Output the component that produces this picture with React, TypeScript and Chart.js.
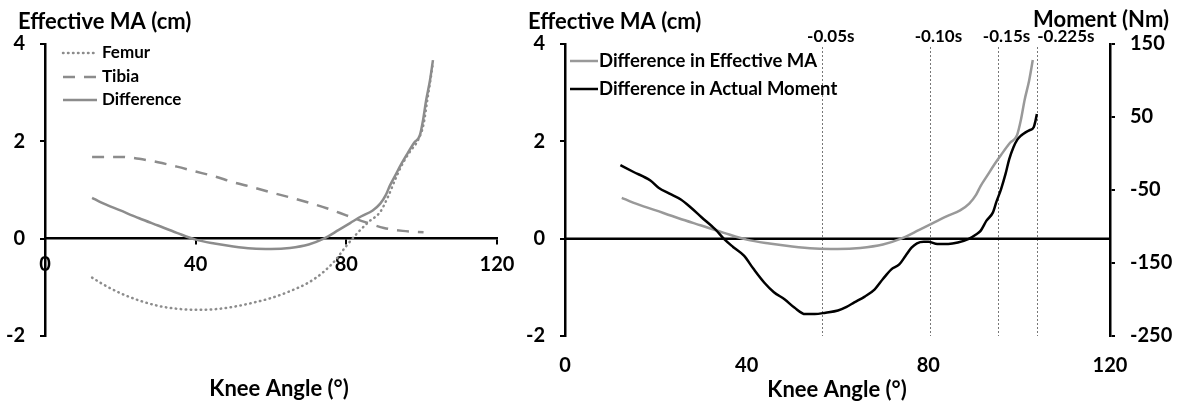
import React, { useEffect, useRef } from 'react';
import { Chart, registerables } from 'chart.js';

Chart.register(...registerables);

// ---------- data ----------
const femurAngle = [12.5, 15, 20, 25, 30, 35, 40, 45, 50, 55, 60, 65, 70, 74, 77, 80, 83, 86, 89, 91, 93, 95, 97, 99, 100.5, 101.5, 102.5, 103];
const femurMA = [-0.80, -0.92, -1.12, -1.27, -1.38, -1.44, -1.46, -1.45, -1.40, -1.32, -1.22, -1.08, -0.90, -0.68, -0.45, -0.15, 0.12, 0.35, 0.55, 0.85, 1.22, 1.55, 1.80, 2.02, 2.35, 2.85, 3.35, 3.62];

const tibiaAngle = [12.5, 20, 25, 30, 35, 40, 45, 50, 55, 60, 65, 70, 75, 80, 85, 90, 95, 100.5];
const tibiaMA = [1.68, 1.68, 1.64, 1.57, 1.48, 1.38, 1.28, 1.16, 1.06, 0.95, 0.85, 0.74, 0.62, 0.48, 0.34, 0.22, 0.16, 0.13];

const diffAngle = [12.5, 15, 20, 25, 30, 35, 40, 45, 50, 55, 60, 65, 70, 74, 78, 81, 84, 87, 89, 90.5, 91.5, 93, 94.5, 96, 98, 99.5, 100.4, 101.2, 102.2, 103];
const diffMA = [0.84, 0.74, 0.58, 0.42, 0.27, 0.12, -0.02, -0.10, -0.16, -0.20, -0.21, -0.19, -0.12, 0.0, 0.18, 0.32, 0.46, 0.58, 0.72, 0.90, 1.08, 1.30, 1.52, 1.72, 1.97, 2.12, 2.45, 2.85, 3.25, 3.67];

const momentAngle = [12.2, 15, 18.8, 20.6, 23, 25.5, 27.7, 30, 33.1, 35, 37, 39.4, 41.5, 43.9, 46, 48.4, 50.5, 52.9, 55, 57.4, 60.1, 62, 63.7, 66, 68.2, 70, 71.8, 73.6, 75, 76.3, 77.5, 79, 80, 82, 84.4, 86.5, 88.9, 90.5, 91.5, 92.8, 94.2, 95, 96, 97, 97.8, 98.7, 99.6, 100.5, 101.4, 102.3, 103.2, 103.6, 103.9];
const momentNm = [-16, -25, -37, -47, -55, -63, -74, -87, -104, -117, -128, -140, -158, -177, -190, -200, -211, -220, -220, -218, -215, -210, -204, -196, -186, -172, -159, -152, -140, -129, -123, -121, -121, -124, -124, -122, -117, -111, -106, -92, -81, -66, -49, -28, -8, 8, 19, 25, 29, 32, 36, 45, 54];

const eventAngles = [56.6, 80.3, 95.3, 103.9];
const eventLabels = ['-0.05s', '-0.10s', '-0.15s', '-0.225s'];

const leftLabels = ['Femur', 'Tibia', 'Difference'];
const rightLabels = ['Difference in Effective MA', 'Difference in Actual Moment'];

const xTitle = 'Knee Angle (°)';
const yTitle = 'Effective MA (cm)';
const y2Title = 'Moment (Nm)';

const xMin = 0, xMax = 120, xStep = 40;
const yMin = -2, yMax = 4, yStep = 2;
const y2Min = -250, y2Max = 150, y2Step = 100;

// ---------- helpers ----------
const FONT = 'Lato';
const pts = (xs: number[], ys: number[]) => xs.map((x, i) => ({ x, y: ys[i] }));

const tickFont = { family: FONT, weight: 'bold' as const, size: 20 };

const axisGrid = { drawOnChartArea: false, drawTicks: true, tickLength: 5, color: '#000', lineWidth: 2 };
const axisBorder = { display: true, color: '#000', width: 2.5 };

function drawLegendRow(ctx: CanvasRenderingContext2D, ds: any, x0: number, x1: number, y: number, tx: number, size: number) {
  ctx.save();
  ctx.strokeStyle = ds.borderColor;
  ctx.lineWidth = ds.borderWidth;
  ctx.setLineDash(ds.borderDash || []);
  ctx.lineCap = ds.borderCapStyle || 'butt';
  ctx.beginPath();
  ctx.moveTo(x0, y);
  ctx.lineTo(x1, y);
  ctx.stroke();
  ctx.restore();
  ctx.save();
  ctx.fillStyle = '#000';
  ctx.font = `bold ${size}px ${FONT}`;
  ctx.textAlign = 'left';
  ctx.textBaseline = 'middle';
  ctx.fillText(ds.label, tx, y);
  ctx.restore();
}

const leftDecor = {
  id: 'leftDecor',
  afterDraw(chart: any) {
    const ctx = chart.ctx as CanvasRenderingContext2D;
    ctx.save();
    ctx.fillStyle = '#000';
    ctx.font = `bold 22px ${FONT}`;
    ctx.textBaseline = 'middle';
    ctx.textAlign = 'left';
    ctx.fillText(yTitle, 18, 22);
    ctx.textAlign = 'center';
    ctx.fillText(xTitle, 279, 389);
    ctx.restore();
    const rows = [53, 77, 100];
    chart.data.datasets.forEach((ds: any, i: number) => drawLegendRow(ctx, ds, 63, 97, rows[i], 102, 17));
  },
};

const rightDecor = {
  id: 'rightDecor',
  beforeDatasetsDraw(chart: any) {
    const ctx = chart.ctx as CanvasRenderingContext2D;
    const { left, right, bottom } = chart.chartArea;
    const xs = chart.scales.x;
    const ys = chart.scales.y;
    ctx.save();
    ctx.strokeStyle = '#777';
    ctx.lineWidth = 1;
    ctx.setLineDash([2, 2]);
    eventAngles.forEach((a) => {
      const px = Math.round(xs.getPixelForValue(a)) + 0.5;
      ctx.beginPath();
      ctx.moveTo(px, 47);
      ctx.lineTo(px, bottom);
      ctx.stroke();
    });
    ctx.restore();
    const y0 = ys.getPixelForValue(0);
    ctx.save();
    ctx.strokeStyle = '#000';
    ctx.lineWidth = 2.5;
    ctx.beginPath();
    ctx.moveTo(left, y0);
    ctx.lineTo(right, y0);
    ctx.stroke();
    ctx.restore();
  },
  afterDraw(chart: any) {
    const ctx = chart.ctx as CanvasRenderingContext2D;
    const xs = chart.scales.x;
    ctx.save();
    ctx.fillStyle = '#000';
    ctx.font = `bold 22px ${FONT}`;
    ctx.textBaseline = 'middle';
    ctx.textAlign = 'left';
    ctx.fillText(yTitle, 8, 22);
    ctx.textAlign = 'right';
    ctx.fillText(y2Title, 649, 20);
    ctx.textAlign = 'center';
    ctx.fillText(xTitle, 317, 390);
    ctx.font = `bold 17px ${FONT}`;
    ctx.textAlign = 'left';
    let prevRight = -Infinity;
    eventAngles.forEach((a, i) => {
      const px = xs.getPixelForValue(a);
      const w = ctx.measureText(eventLabels[i]).width;
      const lx = Math.max(px - 15, prevRight + 7);
      ctx.fillText(eventLabels[i], lx, 37);
      prevRight = lx + w;
    });
    ctx.restore();
    const rows = [61, 89];
    chart.data.datasets.forEach((ds: any, i: number) => drawLegendRow(ctx, ds, 50, 78, rows[i], 79, 18.5));
  },
};

function LeftChart() {
  const ref = useRef<HTMLCanvasElement>(null);
  useEffect(() => {
    const gray = '#8c8c8c';
    const chart = new Chart(ref.current as HTMLCanvasElement, {
      type: 'line',
      data: {
        datasets: [
          { label: leftLabels[0], data: pts(femurAngle, femurMA), borderColor: gray, borderWidth: 2.5, borderDash: [0.5, 4.5], borderCapStyle: 'round', pointRadius: 0, cubicInterpolationMode: 'monotone', fill: false },
          { label: leftLabels[1], data: pts(tibiaAngle, tibiaMA), borderColor: gray, borderWidth: 2.5, borderDash: [12, 9], pointRadius: 0, cubicInterpolationMode: 'monotone', fill: false },
          { label: leftLabels[2], data: pts(diffAngle, diffMA), borderColor: gray, borderWidth: 2.5, pointRadius: 0, cubicInterpolationMode: 'monotone', fill: false },
        ],
      } as any,
      options: {
        animation: false,
        responsive: false,
        devicePixelRatio: 1,
        layout: { padding: { left: 0, top: 44, right: 43, bottom: 69 } },
        plugins: { legend: { display: false }, tooltip: { enabled: false } },
        scales: {
          x: {
            type: 'linear', min: xMin, max: xMax, position: { y: 0 } as any,
            ticks: { stepSize: xStep, color: '#000', font: tickFont, padding: 9 },
            grid: axisGrid, border: axisBorder,
          },
          y: {
            type: 'linear', min: yMin, max: yMax,
            ticks: { stepSize: yStep, color: '#000', font: tickFont, padding: 15 },
            grid: axisGrid, border: axisBorder,
            afterFit: (s: any) => { s.width = 45; },
          },
        },
      } as any,
      plugins: [leftDecor],
    });
    return () => chart.destroy();
  }, []);
  return <canvas ref={ref} width={540} height={405} style={{ position: 'absolute', left: 0, top: 0 }} />;
}

function RightChart() {
  const ref = useRef<HTMLCanvasElement>(null);
  useEffect(() => {
    const chart = new Chart(ref.current as HTMLCanvasElement, {
      type: 'line',
      data: {
        datasets: [
          { label: rightLabels[0], data: pts(diffAngle, diffMA), yAxisID: 'y', borderColor: '#999999', borderWidth: 2.5, pointRadius: 0, cubicInterpolationMode: 'monotone', fill: false, order: 1 },
          { label: rightLabels[1], data: pts(momentAngle, momentNm), yAxisID: 'y2', borderColor: '#000000', borderWidth: 2.5, pointRadius: 0, cubicInterpolationMode: 'monotone', fill: false, order: 0 },
        ],
      } as any,
      options: {
        animation: false,
        responsive: false,
        devicePixelRatio: 1,
        layout: { padding: { left: 0, top: 44, right: 0, bottom: 0 } },
        plugins: { legend: { display: false }, tooltip: { enabled: false } },
        scales: {
          x: {
            type: 'linear', min: xMin, max: xMax, position: 'bottom',
            ticks: { stepSize: xStep, color: '#000', font: tickFont, padding: 10 },
            grid: { display: false }, border: { display: false },
            afterFit: (s: any) => { s.height = 69; },
          },
          y: {
            type: 'linear', position: 'left', min: yMin, max: yMax,
            ticks: { stepSize: yStep, color: '#000', font: tickFont, padding: 15 },
            grid: axisGrid, border: axisBorder,
            afterFit: (s: any) => { s.width = 45; },
          },
          y2: {
            type: 'linear', position: 'right', min: y2Min, max: y2Max,
            ticks: { stepSize: y2Step, color: '#000', font: tickFont, padding: 15 },
            grid: axisGrid, border: axisBorder,
            afterFit: (s: any) => { s.width = 68; },
          },
        },
      } as any,
      plugins: [rightDecor],
    });
    return () => chart.destroy();
  }, []);
  return <canvas ref={ref} width={658} height={405} style={{ position: 'absolute', left: 520, top: 0 }} />;
}

export default function App() {
  return (
    <div style={{ position: 'absolute', left: 0, top: 0, width: 1178, height: 405, background: '#fff', overflow: 'hidden' }}>
      <LeftChart />
      <RightChart />
    </div>
  );
}
